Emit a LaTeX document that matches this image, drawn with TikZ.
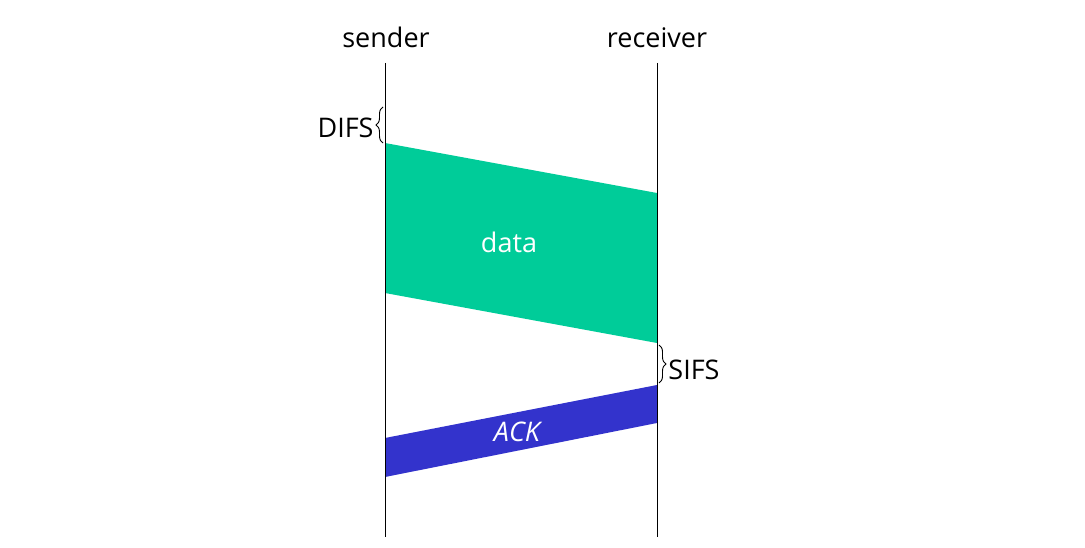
\documentclass[tikz,border=0pt]{standalone}
\usepackage{fontspec}
\setmainfont{Open Sans}
\usetikzlibrary{decorations.pathreplacing}
\definecolor{datagreen}{RGB}{0,204,153}
\definecolor{ackblue}{RGB}{51,51,204}
\begin{document}
\begin{tikzpicture}[x=1pt,y=-1pt,
  lbl/.style={font=\fontsize{27}{32}\selectfont, inner sep=0pt},
  life/.style={draw=black, line width=1pt},
  brace/.style={draw=black, line width=0.9pt, decorate, decoration={brace, amplitude=7pt}}]
\useasboundingbox (0,0) rectangle (1085,548);
% lifeline ends
\coordinate (s0) at (385,63);
\coordinate (s1) at (385,537);
\coordinate (r0) at (657,63);
\coordinate (r1) at (657,537);
% packets
\fill[datagreen] (385,143) coordinate (d1) -- (657,193) coordinate (d2) -- (657,343) coordinate (d3) -- (385,293) coordinate (d4) -- cycle;
\fill[ackblue] (385,438) coordinate (a1) -- (657,385) coordinate (a2) -- (657,423) coordinate (a3) -- (385,477) coordinate (a4) -- cycle;
\draw[life] (s0) -- (s1);
\draw[life] (r0) -- (r1);
\node[lbl, anchor=base] (sender) at (386,48) {sender};
\node[lbl, anchor=base] (receiver) at (657,48) {receiver};
% braces
\coordinate (b1) at (383,107);
\coordinate (b2) at (383,143);
\draw[brace] (b2) -- (b1) node[midway, left=9pt, lbl, yshift=-3pt] (difs) {DIFS};
\coordinate (c1) at (659,345);
\coordinate (c2) at (659,383);
\draw[brace] (c1) -- (c2) node[midway, right=9pt, lbl, yshift=-6pt] (sifs) {SIFS};
\node[lbl, text=white] (data) at (509,242) {data};
\node[lbl, text=white, font=\fontsize{27}{32}\selectfont\itshape] (ack) at (517,432) {ACK};
\end{tikzpicture}
\end{document}
